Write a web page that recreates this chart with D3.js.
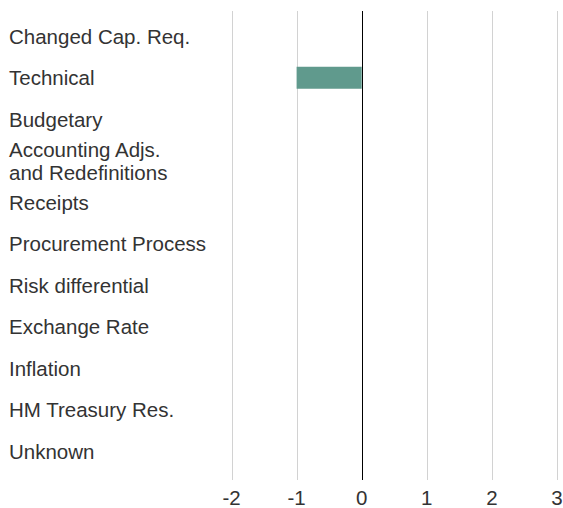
<!DOCTYPE html>
<html lang="en">
<head>
    <meta charset="UTF-8">
    <title>Cost changes by category</title>
    <script src="https://d3js.org/d3.v7.min.js"></script>
    <style>
        body {
            margin: 0;
            background: #fff;
            font-family: "Liberation Sans", Arial, sans-serif;
        }
        svg {
            display: block;
        }
    </style>
</head>
<body>
    <svg width="563" height="508"></svg>

    <script>
        // categories top to bottom, and their values
        const categories = [
            "Changed Cap. Req.",
            "Technical",
            "Budgetary",
            "Accounting Adjs.\nand Redefinitions",
            "Receipts",
            "Procurement Process",
            "Risk differential",
            "Exchange Rate",
            "Inflation",
            "HM Treasury Res.",
            "Unknown"
        ];
        const values = [0, -1, 0, 0, 0, 0, 0, 0, 0, 0, 0];
        const xTicks = [-2, -1, 0, 1, 2, 3];

        const svg = d3.select("svg");
        const fontSize = 20.5;

        const x = d3.scaleLinear()
            .domain([-2, 3])
            .range([231.5, 557]);

        const y = d3.scaleBand()
            .domain(categories)
            .range([15.5, 472])
            .paddingInner(0.47)
            .paddingOuter(0.235);

        const rows = categories.map((c, i) => ({ name: c, value: values[i] }));

        // grid lines
        svg.append("g")
            .selectAll("line")
            .data(xTicks.filter(d => d !== 0))
            .join("line")
            .attr("x1", d => Math.round(x(d)) + 0.5)
            .attr("x2", d => Math.round(x(d)) + 0.5)
            .attr("y1", 11)
            .attr("y2", 480)
            .attr("stroke", "#d2d2d2")
            .attr("stroke-width", 1);

        // bars
        svg.append("g")
            .selectAll("rect")
            .data(rows.filter(d => d.value !== 0))
            .join("rect")
            .attr("x", d => x(Math.min(0, d.value)))
            .attr("width", d => Math.abs(x(d.value) - x(0)))
            .attr("y", d => y(d.name))
            .attr("height", y.bandwidth())
            .attr("fill", "#609a8d");

        // zero line
        svg.append("line")
            .attr("x1", Math.round(x(0)) + 0.5)
            .attr("x2", Math.round(x(0)) + 0.5)
            .attr("y1", 11)
            .attr("y2", 480)
            .attr("stroke", "#000")
            .attr("stroke-width", 1);

        // category labels
        const labels = svg.append("g")
            .selectAll("text")
            .data(rows)
            .join("text")
            .attr("x", 9)
            .attr("y", d => y(d.name) + y.bandwidth() / 2)
            .attr("fill", "#333")
            .style("font-size", fontSize + "px");

        labels.each(function(d) {
            const lines = d.name.split("\n");
            const t = d3.select(this);
            lines.forEach((line, i) => {
                const offset = (i - (lines.length - 1) / 2) * 23 + fontSize * 0.36;
                t.append("tspan")
                    .attr("x", 9)
                    .attr("dy", i === 0 ? offset : 23)
                    .text(line);
            });
        });

        // x axis tick labels
        svg.append("g")
            .selectAll("text")
            .data(xTicks)
            .join("text")
            .attr("x", d => x(d))
            .attr("y", 505)
            .attr("text-anchor", "middle")
            .attr("fill", "#333")
            .style("font-size", fontSize + "px")
            .text(d => d);
    </script>
</body>
</html>
